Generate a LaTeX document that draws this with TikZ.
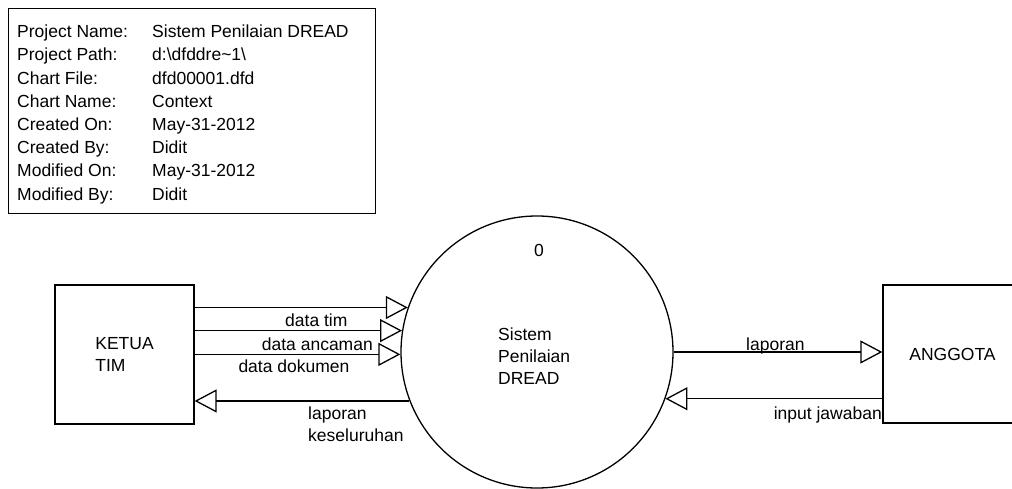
\documentclass[tikz,border=0pt]{standalone}
\usepackage{fontspec}
\setmainfont{Liberation Sans}
\usetikzlibrary{arrows.meta}
\tikzset{
  lbl/.style={inner sep=0pt, font=\fontsize{17.5}{22}\selectfont},
  entity/.style={draw, line width=1.3pt, inner sep=0pt, font=\fontsize{17.5}{22}\selectfont},
  flow/.style={draw, line width=1.3pt, -{Triangle[open, length=22pt, width=23pt, line width=1.3pt]}},
}
\begin{document}
\begin{tikzpicture}[x=1pt, y=-1pt]
\useasboundingbox (0,0) rectangle (1012,489);
% info box
\node[draw, line width=1.3pt, minimum width=367pt, minimum height=205pt, anchor=north west, inner sep=0pt] (info) at (8,8) {};
\foreach \k/\a/\b in {0/Project Name:/Sistem Penilaian DREAD,
  1/Project Path:/d:\textbackslash dfddre\textasciitilde 1\textbackslash,
  2/Chart File:/dfd00001.dfd,
  3/Chart Name:/Context,
  4/Created On:/May-31-2012,
  5/Created By:/Didit,
  6/Modified On:/May-31-2012,
  7/Modified By:/Didit}{
  \node[lbl, anchor=base west] (ka\k) at (17,{37.7+23.2*\k}) {\a};
  \node[lbl, anchor=base west] (kb\k) at (152,{37.7+23.2*\k}) {\b};
}
% entities
\node[entity, minimum width=139pt, minimum height=139pt, align=left] (ketua) at (124.5,354.5) {KETUA\\TIM};
\node[entity, minimum width=139pt, minimum height=138pt] (anggota) at (952.5,354) {ANGGOTA};
\node[draw, circle, line width=1.3pt, minimum size=272pt, inner sep=0pt] (circ) at (537,352) {};
\node[lbl, anchor=north west, align=left] (ptext) at (498,328) {Sistem\\Penilaian\\DREAD};
\node[lbl, anchor=base] (num) at (539,257) {0};
% flows
\draw[flow] (circ.161.1 -| ketua.east) -- (circ.161.1);
\draw[flow] (circ.171.5 -| ketua.east) -- (circ.171.5);
\draw[flow] (circ.181.3 -| ketua.east) -- (circ.181.3);
\draw[flow] (circ.201.1) -- (circ.201.1 -| ketua.east);
\draw[flow] (circ.-0.84) -- (circ.-0.84 -| anggota.west);
\draw[flow] (circ.-20.67 -| anggota.west) -- (circ.-20.67);
% labels
\node[lbl, anchor=base west] (l1) at (285,326.7) {data tim};
\node[lbl, anchor=base west] (l2) at (261.7,350) {data ancaman};
\node[lbl, anchor=base west] (l3) at (238.3,372.7) {data dokumen};
\node[lbl, anchor=base west] (l4) at (308,419) {laporan};
\node[lbl, anchor=base west] (l4b) at (308,441.7) {keseluruhan};
\node[lbl, anchor=base west] (l5) at (746,350) {laporan};
\node[lbl, anchor=base east] (l6) at (882,419) {input jawaban};
\end{tikzpicture}
\end{document}
